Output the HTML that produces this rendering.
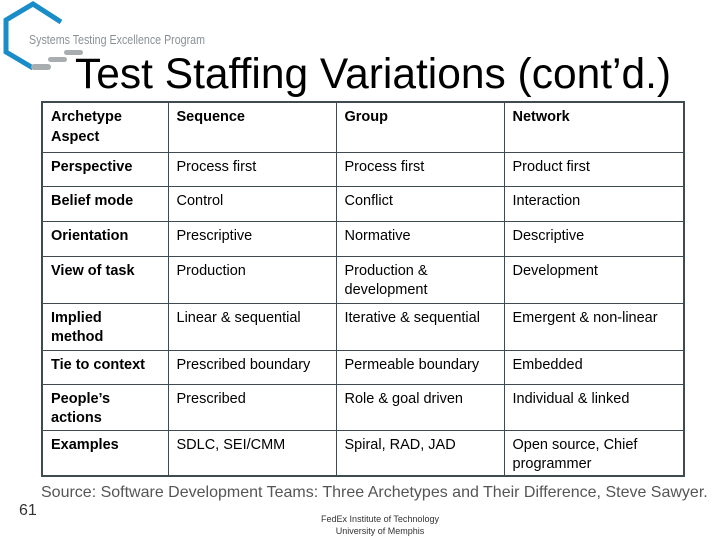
<!DOCTYPE html>
<html><head><meta charset="utf-8"><style>
body{margin:0;width:720px;height:540px;background:#fff;position:relative;overflow:hidden;font-family:"Liberation Sans",Arial,sans-serif}
.abs{position:absolute}
table{position:absolute;left:41px;top:101px;width:644px;border-collapse:collapse;border:2px solid #3e4b50;font-size:14.5px;color:#000}
td{border:1px solid #3e4b50;vertical-align:top;padding:5px 0 0 8px;line-height:19.5px}
td.h{font-weight:bold}
</style></head><body>
<svg class="abs" style="left:0;top:0" width="220" height="80">
<polyline points="61,22 33,4 6,20 6,52 33,68" fill="none" stroke="#1a8cc7" stroke-width="5" stroke-linejoin="miter"/>
<rect x="31" y="64" width="20" height="6" rx="3" fill="#a8adb0"/>
<rect x="48" y="57" width="19" height="5" rx="2.5" fill="#a8adb0"/>
<rect x="64" y="50" width="19" height="5" rx="2.5" fill="#a8adb0"/>
<text x="29" y="44" font-family="Liberation Sans" font-size="12.5" fill="#8a9095" textLength="176" lengthAdjust="spacingAndGlyphs">Systems Testing Excellence Program</text>
</svg>
<div class="abs" style="left:75px;top:52px;font-size:42.5px;line-height:46px;color:#000;white-space:nowrap">Test Staffing Variations (cont’d.)</div>
<table>
<colgroup><col style="width:126px"><col style="width:168px"><col style="width:168px"><col></colgroup>
<tr style="height:50px"><td class="h">Archetype<br>Aspect</td><td class="h">Sequence</td><td class="h">Group</td><td class="h">Network</td></tr>
<tr style="height:34px"><td class="h">Perspective</td><td>Process first</td><td>Process first</td><td>Product first</td></tr>
<tr style="height:35px"><td class="h">Belief mode</td><td>Control</td><td>Conflict</td><td>Interaction</td></tr>
<tr style="height:35px"><td class="h">Orientation</td><td>Prescriptive</td><td>Normative</td><td>Descriptive</td></tr>
<tr style="height:47px"><td class="h">View of task</td><td>Production</td><td>Production &amp;<br>development</td><td>Development</td></tr>
<tr style="height:47px"><td class="h">Implied<br>method</td><td>Linear &amp; sequential</td><td>Iterative &amp; sequential</td><td>Emergent &amp; non-linear</td></tr>
<tr style="height:34px"><td class="h">Tie to context</td><td>Prescribed boundary</td><td>Permeable boundary</td><td>Embedded</td></tr>
<tr style="height:46px"><td class="h">People’s<br>actions</td><td>Prescribed</td><td>Role &amp; goal driven</td><td>Individual &amp; linked</td></tr>
<tr style="height:44px"><td class="h">Examples</td><td>SDLC, SEI/CMM</td><td>Spiral, RAD, JAD</td><td>Open source, Chief<br>programmer</td></tr>
</table>
<div class="abs" style="left:41px;top:484px;font-size:16px;color:#555;white-space:nowrap">Source: Software Development Teams: Three Archetypes and Their Difference, Steve Sawyer.</div>
<div class="abs" style="left:19px;top:502px;font-size:16px;color:#333">61</div>
<div class="abs" style="left:300px;top:513px;width:160px;text-align:center;font-size:9px;line-height:12px;color:#333">FedEx Institute of Technology<br>University of Memphis</div>
</body></html>
